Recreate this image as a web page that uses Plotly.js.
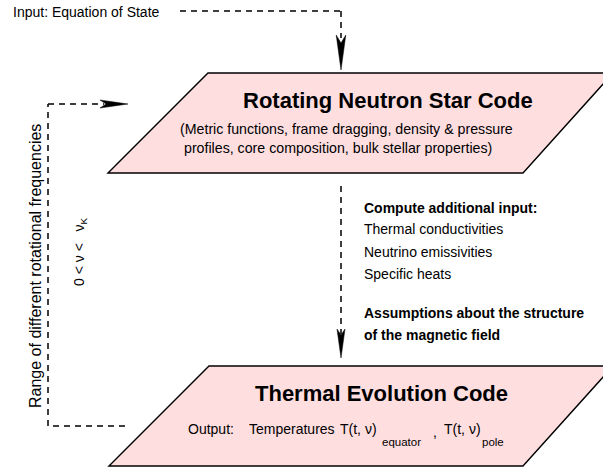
<!DOCTYPE html>
<html>
<head>
<meta charset="utf-8">
<script src="https://cdn.plot.ly/plotly-3.0.1.min.js"></script>
<style>html,body{margin:0;padding:0;background:#fff;}#chart{width:603px;height:468px;}</style>
</head>
<body>
<div id="chart"></div>
<script>
// ---- text content of the flow chart ----
const inputLabel = "Input: Equation of State";
const box1Title = "Rotating Neutron Star Code";
const box1Lines = ["(Metric functions, frame dragging, density &amp; pressure",
                   "profiles, core composition, bulk stellar properties)"];
const sideHeading1 = "Compute additional input:";
const sideItems = ["Thermal conductivities", "Neutrino emissivities", "Specific heats"];
const sideHeading2 = ["Assumptions about the structure", "of the magnetic field"];
const box2Title = "Thermal Evolution Code";
const outputParts = ["Output:", "Temperatures", "T(t, ν)", "equator", ",", "T(t, ν)", "pole"];
const loopLabel = "Range of different rotational frequencies";
const freqRange = "0 &lt; ν &lt;   ν<sub>K</sub>";

const FONT = "Liberation Sans, Arial, Helvetica, sans-serif";
const PINK = "rgb(255,222,224)";

function para(x0b, x0t, x1b, x1t, yt, yb) {
  return {type: "path", xref: "x", yref: "y",
    path: `M${x0b},${yb} L${x0t},${yt} L${x1t},${yt} L${x1b},${yb} Z`,
    fillcolor: PINK, line: {color: "black", width: 1.4}, layer: "below"};
}
function dline(x0, y0, x1, y1) {
  return {type: "line", xref: "x", yref: "y", x0, y0, x1, y1,
    line: {color: "black", width: 1.5, dash: "6px,5px"}};
}
function headDown(tx, ty, L, w, n) {
  return {type: "path", xref: "x", yref: "y",
    path: `M${tx},${ty} L${tx - w},${ty - L} L${tx},${ty - L + n} L${tx + w},${ty - L} Z`,
    fillcolor: "black", line: {color: "black", width: 0.5}};
}
function headRight(tx, ty, L, w, n) {
  return {type: "path", xref: "x", yref: "y",
    path: `M${tx},${ty} L${tx - L},${ty - w} L${tx - L + n},${ty} L${tx - L},${ty + w} Z`,
    fillcolor: "black", line: {color: "black", width: 0.5}};
}

const shapes = [
  para(108, 208, 523, 613, 73, 173),
  para(109, 209, 523, 613, 366, 466),
  // input arrow
  dline(180, 11, 341, 11),
  dline(341, 11, 341, 38),
  headDown(341, 70, 35, 4.8, 8),
  // middle arrow
  dline(341, 186, 341, 334),
  headDown(341, 358, 29, 4, 6),
  // loop
  dline(125, 426, 48, 426),
  dline(48, 426, 48, 104),
  dline(48, 104, 104, 104),
  headRight(128, 104, 28, 4, 6)
];

function ann(text, x, y, size, opts) {
  return Object.assign({text, x, y, xref: "x", yref: "y", showarrow: false,
    xanchor: "left", yanchor: "middle",
    font: {family: FONT, size, color: "black"}}, opts || {});
}
function bold(t) { return "<b>" + t + "</b>"; }

const annotations = [
  ann(inputLabel, 11, 12, 14),
  ann(bold(box1Title), 388, 100, 22, {xanchor: "center"}),
  ann(box1Lines[0], 178, 129, 14.2),
  ann(box1Lines[1], 182, 148, 14.2),
  ann(bold(sideHeading1), 362, 208, 14),
  ann(sideItems[0], 362, 229, 14),
  ann(sideItems[1], 362, 252, 14),
  ann(sideItems[2], 362, 274, 14),
  ann(bold(sideHeading2[0]), 362, 313, 14),
  ann(bold(sideHeading2[1]), 362, 335, 14),
  ann(bold(box2Title), 381, 393, 22, {xanchor: "center"}),
  ann(outputParts[0], 186, 429, 14),
  ann(outputParts[1], 247, 429, 14),
  ann(outputParts[2], 338, 429, 14),
  ann(outputParts[3], 380, 442, 11.5),
  ann(outputParts[4], 431, 432, 14),
  ann(outputParts[5], 442, 429, 14),
  ann(outputParts[6], 480, 442, 11.5),
  ann(loopLabel, 35, 266, 16, {xanchor: "center", textangle: -90}),
  ann(freqRange, 80, 252, 14, {xanchor: "center", textangle: -90})
];

const data = [{x: [], y: [], type: "scatter", mode: "markers", hoverinfo: "skip", showlegend: false}];
const layout = {
  width: 603, height: 468,
  margin: {l: 0, r: 0, t: 0, b: 0, pad: 0},
  paper_bgcolor: "white", plot_bgcolor: "white",
  showlegend: false,
  xaxis: {range: [0, 603], visible: false, fixedrange: true},
  yaxis: {range: [468, 0], visible: false, fixedrange: true},
  shapes, annotations
};
Plotly.newPlot("chart", data, layout, {staticPlot: true, displayModeBar: false});
</script>
</body>
</html>
